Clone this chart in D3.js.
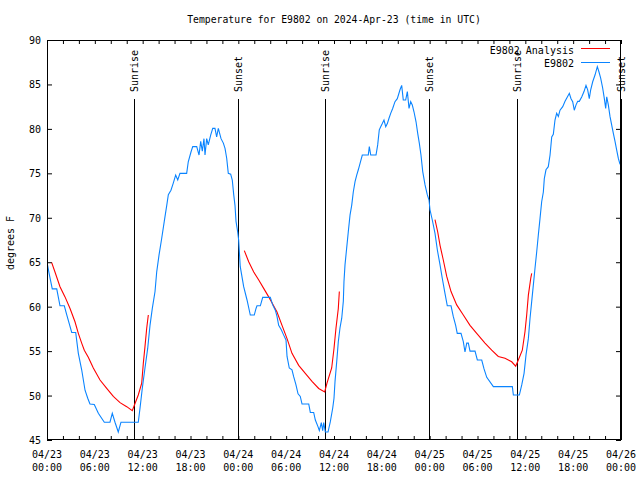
<!DOCTYPE html>
<html><head><meta charset="utf-8">
<script src="https://cdn.jsdelivr.net/npm/d3@7"></script>
<style>body{margin:0;background:#fff}svg{display:block}text{font-family:"DejaVu Sans Mono",monospace;font-size:10px;fill:#000}</style>
</head><body>
<script>
// Data (hours since 2024-04-23 00:00 UTC, degrees F)
const stationHours = [0,0.25,0.66,1.22,1.63,2.17,2.47,3.10,3.60,3.93,4.35,4.77,5.11,5.39,5.93,6.44,7.19,7.90,8.19,8.53,8.94,9.28,11.45,11.67,11.95,12.29,12.63,12.92,13.21,13.55,13.76,14.05,14.39,14.71,15.02,15.22,15.55,15.84,16.14,16.40,16.68,17.52,17.72,18.06,18.28,18.78,19.07,19.28,19.48,19.69,19.82,20.03,20.23,20.53,20.79,21.07,21.28,21.49,21.83,22.12,22.33,22.54,22.74,23.04,23.24,23.42,23.58,23.71,23.92,24.04,24.24,24.67,25.09,25.50,26.00,26.22,26.34,26.76,27.06,28.01,28.31,28.64,28.85,29.06,29.39,29.69,29.98,30.11,30.39,30.73,30.95,31.23,31.49,31.77,31.99,32.83,33.03,33.45,33.66,33.99,34.16,34.41,34.58,34.71,34.91,35.25,35.54,35.84,36.00,36.13,36.34,36.54,36.75,36.97,37.17,37.25,37.38,37.59,37.79,38.01,38.22,38.42,38.64,38.85,39.05,39.26,39.55,40.30,40.43,40.61,41.27,41.48,41.68,41.86,42.06,42.27,42.49,42.69,42.90,43.11,43.36,43.65,43.94,44.28,44.49,44.69,44.99,45.20,45.41,45.62,45.82,46.04,46.29,46.50,46.70,46.91,47.13,47.42,47.70,47.92,48.04,48.33,48.67,48.96,49.30,49.58,49.92,50.21,50.68,50.96,51.26,51.46,51.93,52.22,52.43,52.65,52.85,53.06,53.69,53.98,54.53,54.82,55.16,55.99,58.37,58.50,59.25,59.55,59.84,60.09,60.38,60.59,60.80,61.00,61.21,61.43,61.63,61.84,62.05,62.26,62.38,62.59,62.88,63.10,63.31,63.51,63.72,63.93,64.14,64.35,64.69,64.98,65.27,65.52,65.73,65.94,66.14,66.36,66.57,66.77,67.07,67.36,67.61,67.82,68.02,68.20,68.45,68.74,69.03,69.24,69.45,69.70,69.91,70.08,70.21,70.41,70.62,70.84,71.04,71.25,71.46,71.66,71.88];
const stationTemps = [65.0,63.8,62.0,62.0,60.1,60.1,59.1,57.1,57.1,54.75,52.9,50.6,49.7,49.05,49.0,48.0,47.0,47.0,48.0,47.0,45.9,47.0,47.0,48.6,50.8,53.1,55.3,57.9,59.8,61.7,63.9,65.8,67.7,69.6,71.4,72.6,73.1,73.9,74.8,74.25,75.0,75.0,76.3,77.4,78.0,78.0,77.06,78.6,77.5,78.9,77.06,78.9,78.2,79.3,80.06,80.06,79.1,80.06,78.9,78.4,77.8,76.7,75.0,74.9,74.25,72.6,71.4,69.6,68.4,67.5,64.5,62.25,60.75,59.06,59.06,59.8,60.1,60.1,61.05,61.05,60.2,59.6,58.9,57.9,57.4,56.8,56.25,54.4,53.1,52.9,52.1,51.2,50.2,49.9,49.05,49.05,48.1,48.1,47.25,46.5,46.05,46.95,46.05,46.95,45.9,45.9,47.06,48.6,49.7,51.6,53.8,56.06,57.6,58.7,60.6,62.8,64.7,66.6,68.4,70.3,71.4,72.9,74.06,74.8,75.4,76.1,77.06,77.06,78.0,77.06,77.06,78.2,79.9,80.25,80.6,81.0,80.25,80.6,81.2,81.75,82.3,83.06,83.4,84.4,84.9,83.25,83.25,84.2,82.3,83.06,82.7,81.9,80.8,79.5,78.4,77.06,75.2,73.7,72.6,72.0,70.9,69.75,68.25,66.4,64.7,63.2,61.5,60.1,60.1,58.9,57.9,57.0,57.0,56.06,54.9,55.9,55.9,55.0,55.0,54.0,54.0,53.0,52.05,51.0,51.0,50.06,50.06,51.2,52.5,54.6,56.4,58.7,60.6,62.4,64.3,66.2,68.06,69.9,71.8,72.9,74.4,75.4,75.75,77.06,79.1,79.4,81.0,81.75,81.4,82.1,82.5,83.1,83.6,84.0,83.4,83.06,82.1,82.7,83.1,83.1,83.6,84.2,84.9,84.4,83.4,84.4,85.3,86.06,87.0,86.4,85.7,84.6,83.4,82.3,83.6,82.7,81.4,80.4,79.5,78.6,77.6,76.7,76.0];

const analysisHours1 = [0.59,1.00,1.63,2.26,2.89,3.51,3.93,4.35,4.68,5.18,5.81,6.65,7.49,8.32,9.16,10.00,10.70,11.04,11.45,11.88,12.08,12.29,12.51,12.71];
const analysisTemps1 = [64.95,63.9,62.25,61.1,59.8,58.3,57.0,55.9,55.1,54.3,53.1,51.75,50.8,49.9,49.2,48.75,48.3,49.1,50.06,51.4,53.6,55.5,57.6,59.06];
const analysisHours2 = [24.75,25.30,25.93,26.56,27.18,27.81,28.22,28.85,29.48,30.11,30.73,31.57,32.40,33.24,34.08,34.83,35.12,35.71,36.00,36.25,36.54,36.67];
const analysisTemps2 = [66.3,65.06,63.9,63.0,62.06,61.1,60.45,59.4,57.9,56.4,54.75,53.4,52.5,51.6,50.8,50.4,51.4,53.1,55.3,57.6,59.8,61.7];
const analysisHours3 = [48.67,49.01,49.30,49.71,50.14,50.68,51.39,52.22,53.06,53.90,54.94,55.78,56.61,57.45,58.29,58.79,59.12,59.62,59.96,60.17,60.38,60.68,60.80];
const analysisTemps3 = [69.8,68.4,66.9,65.25,63.4,61.7,60.2,59.06,57.9,57.0,55.9,55.1,54.4,54.2,53.8,53.3,54.0,55.1,57.2,59.06,61.3,63.2,63.75];

const sunEventHours = [10.90, 23.90, 34.87, 47.92, 59.00, 71.95];
const sunEventLabels = ["Sunrise","Sunset","Sunrise","Sunset","Sunrise","Sunset"];
const yTicks = [45,50,55,60,65,70,75,80,85,90];
const seriesNames = ["E9802 Analysis","E9802"];
const seriesColors = ["#ff0000","#0a84ff"];
const titleText = "Temperature for E9802 on 2024-Apr-23 (time in UTC)";
const yLabel = "degrees F";

const base = Date.UTC(2024,3,23,0,0);
const toDate = h => new Date(base + h*3600e3);

const W=640,H=480, L=47, R=621, T=40, B=440;
const svg = d3.select("body").append("svg").attr("width",W).attr("height",H);
svg.append("rect").attr("width",W).attr("height",H).attr("fill","#fff");

const x = d3.scaleUtc().domain([toDate(0), toDate(72)]).range([L,R]);
const y = d3.scaleLinear().domain([45,90]).range([B,T]);

// title
svg.append("text").attr("x",(L+R)/2).attr("y",23).attr("text-anchor","middle").style("font-size","9.75px").text(titleText);

// y axis left
const yl = svg.append("g").attr("transform",`translate(${L},0)`)
  .call(d3.axisLeft(y).tickValues(yTicks).tickSize(-5).tickPadding(6));
yl.select(".domain").remove();
yl.selectAll("text").style("font-family","'DejaVu Sans Mono',monospace").style("font-size","10px").attr("dy","0.35em");
const yr = svg.append("g").attr("transform",`translate(${R},0)`)
  .call(d3.axisRight(y).tickValues(yTicks).tickSize(-5).tickFormat(""));
yr.select(".domain").remove();

// x axis
const majors = x.ticks(d3.utcHour.every(6));
const minors = x.ticks(d3.utcHour.every(2));
const xb = svg.append("g").attr("transform",`translate(0,${B})`)
  .call(d3.axisBottom(x).tickValues(minors).tickSize(-4).tickFormat(""));
xb.select(".domain").remove();
const xt = svg.append("g").attr("transform",`translate(0,${T})`)
  .call(d3.axisTop(x).tickValues(minors).tickSize(-4).tickFormat(""));
xt.select(".domain").remove();
const fmtD = d3.utcFormat("%m/%d"), fmtT = d3.utcFormat("%H:%M");
const lbl = svg.append("g").selectAll("text").data(majors).join("text")
  .attr("text-anchor","middle").attr("x",d=>x(d));
lbl.append("tspan").attr("x",d=>x(d)).attr("y",458).text(d=>fmtD(d));
lbl.append("tspan").attr("x",d=>x(d)).attr("y",471).text(d=>fmtT(d));

// y label
svg.append("text").attr("transform","translate(14,243) rotate(-90)").attr("text-anchor","middle").text(yLabel);

// sun events
const sg = svg.append("g");
sunEventHours.forEach((h,i)=>{
  const xx = Math.round(x(toDate(h)))+0.5;
  sg.append("line").attr("x1",xx).attr("x2",xx).attr("y1",99).attr("y2",B).attr("stroke","#000").attr("stroke-width",1);
  sg.append("text").attr("transform",`translate(${xx+3.7},92) rotate(-90)`).attr("text-anchor","start").text(sunEventLabels[i]);
});

// lines
const line = d3.line().x(d=>x(toDate(d[0]))).y(d=>y(d[1]));
const clip = svg.append("clipPath").attr("id","c").append("rect").attr("x",L).attr("y",T).attr("width",R-L).attr("height",B-T);
const plot = svg.append("g").attr("clip-path","url(#c)");
[[analysisHours1,analysisTemps1],[analysisHours2,analysisTemps2],[analysisHours3,analysisTemps3]].forEach(([hs,vs])=>{
  plot.append("path").datum(hs.map((h,i)=>[h,vs[i]])).attr("d",line).attr("fill","none").attr("stroke",seriesColors[0]).attr("stroke-width",1.1);
});
plot.append("path").datum(stationHours.map((h,i)=>[h,stationTemps[i]])).attr("d",line).attr("fill","none").attr("stroke",seriesColors[1]).attr("stroke-width",1.1);

// frame
svg.append("rect").attr("x",L+0.5).attr("y",T+0.5).attr("width",R-L-1).attr("height",B-T-1).attr("fill","none").attr("stroke","#000").attr("stroke-width",1);

// legend
const lg = svg.append("g");
[[54,48],[67,62]].forEach(([ty,ly],i)=>{
  lg.append("text").attr("x",574).attr("y",ty).attr("text-anchor","end").text(seriesNames[i]);
  lg.append("line").attr("x1",581).attr("x2",610).attr("y1",ly+0.5).attr("y2",ly+0.5).attr("stroke",seriesColors[i]).attr("stroke-width",1);
});
</script>
</body></html>
